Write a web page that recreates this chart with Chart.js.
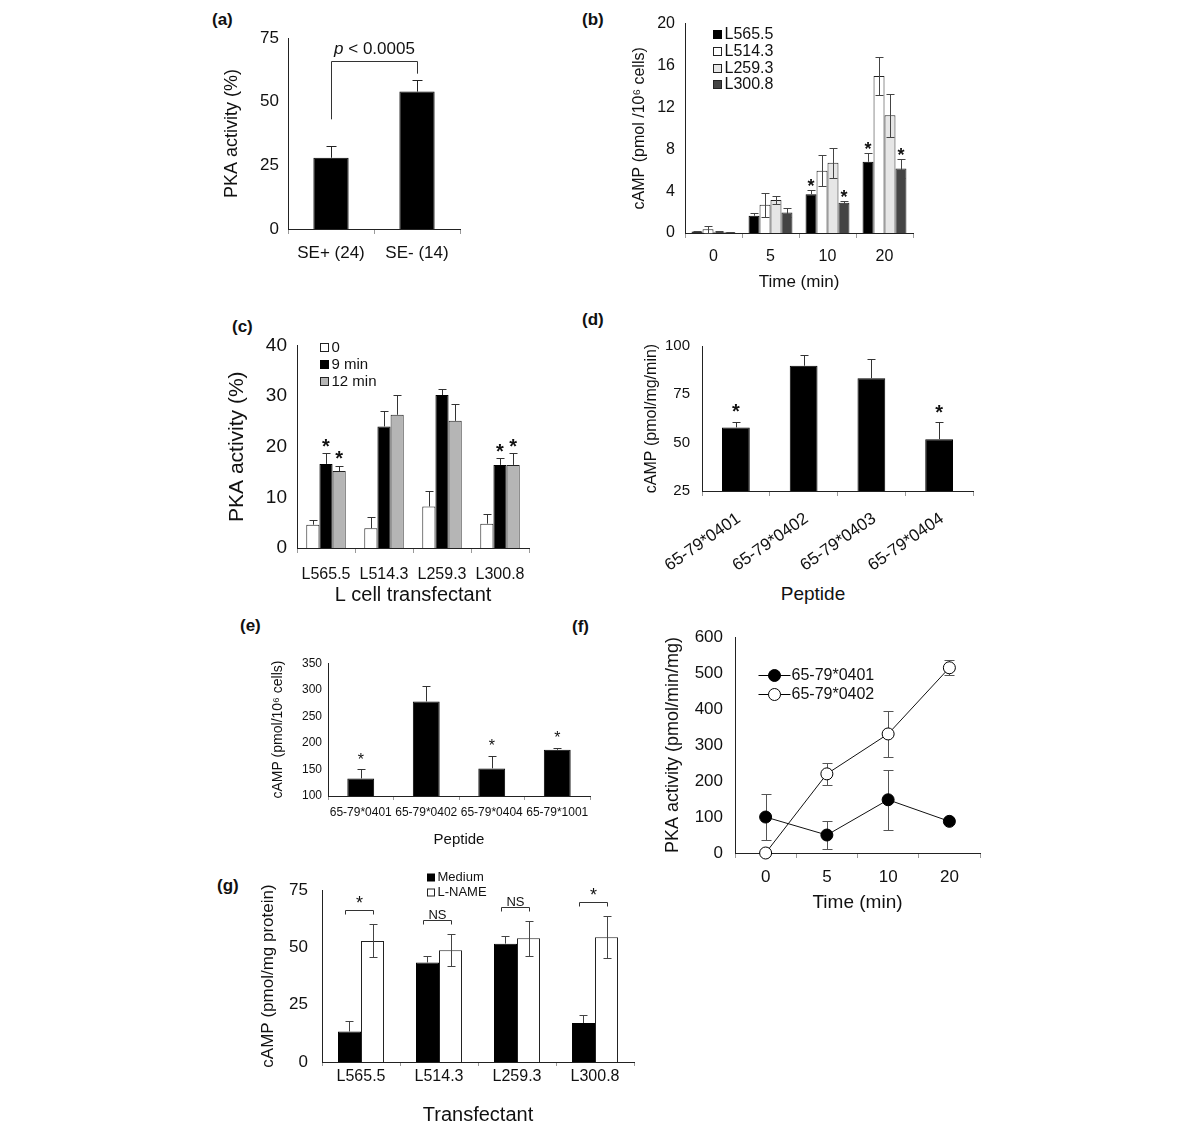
<!DOCTYPE html>
<html>
<head>
<meta charset="utf-8">
<title>PKA activity and cAMP in L cell transfectants</title>
<script src="https://cdn.jsdelivr.net/npm/chart.js@4.4.1/dist/chart.umd.min.js"></script>
<style>
  body { margin: 0; background: #fff; }
  #fig { position: relative; width: 1200px; height: 1141px; overflow: hidden;
         font-family: "Liberation Sans", Arial, Helvetica, sans-serif; color: #111; }
  #fig canvas { position: absolute; }
  .tag { position: absolute; font-weight: bold; font-size: 17px; line-height: 17px; }
  .axt { position: absolute; font-size: 19px; line-height: 19px; transform: translateX(-50%); white-space: nowrap; }
</style>
</head>
<body>
<div id="fig">
  <div class="tag" style="left:212px;top:11px">(a)</div>
  <div class="tag" style="left:582px;top:11px">(b)</div>
  <div class="tag" style="left:232px;top:318px">(c)</div>
  <div class="tag" style="left:582px;top:311px">(d)</div>
  <div class="tag" style="left:240px;top:617px">(e)</div>
  <div class="tag" style="left:572px;top:618px">(f)</div>
  <div class="tag" style="left:217px;top:877px">(g)</div>
  <div class="axt" style="left:813px;top:584px">Peptide</div>
  <canvas id="chartA"></canvas>
  <canvas id="chartB"></canvas>
  <canvas id="chartC"></canvas>
  <canvas id="chartD"></canvas>
  <canvas id="chartE"></canvas>
  <canvas id="chartF"></canvas>
  <canvas id="chartG"></canvas>
</div>
<script>
// ---- datos de cada panel ----

// (a) PKA activity, SE+ / SE-
const aLabels = ['SE+ (24)', 'SE- (14)'];
const aMeans = [28, 54];
const aErrors = [4.5, 4.5];
const aTicks = [0, 25, 50, 75];
const aPText = ['p', ' < 0.0005'];

// (b) cAMP over time
const bTimes = ['0', '5', '10', '20'];
const bSeries = ['L565.5', 'L514.3', 'L259.3', 'L300.8'];
const bL5655 = [0.15, 1.65, 3.7, 6.8];
const bL5143 = [0.35, 2.7, 5.95, 15.0];
const bL2593 = [0.12, 3.15, 6.7, 11.25];
const bL3008 = [0.08, 1.95, 2.9, 6.15];
const bErr5655 = [0.05, 0.25, 0.45, 0.85];
const bErr5143 = [0.35, 1.15, 1.5, 1.8];
const bErr2593 = [0.03, 0.35, 1.4, 2.05];
const bErr3008 = [0.03, 0.4, 0.15, 0.9];
const bStars5655 = ['', '', '*', '*'];
const bStars3008 = ['', '', '*', '*'];
const bTicks = [0, 4, 8, 12, 16, 20];

// (c) PKA activity per transfectant
const cLines = ['L565.5', 'L514.3', 'L259.3', 'L300.8'];
const cSeries = ['0', '9 min', '12 min'];
const c0 = [4.6, 3.9, 8.2, 4.8];
const c9 = [16.6, 24.0, 30.2, 16.4];
const c12 = [15.2, 26.3, 25.1, 16.4];
const cErr0 = [1.0, 2.3, 3.0, 1.9];
const cErr9 = [2.1, 3.1, 1.2, 1.3];
const cErr12 = [1.0, 3.9, 3.3, 2.3];
const cStars9 = ['*', '', '', '*'];
const cStars12 = ['*', '', '', '*'];
const cTicks = [0, 10, 20, 30, 40];

// (d) cAMP per peptide
const dPeptides = ['65-79*0401', '65-79*0402', '65-79*0403', '65-79*0404'];
const dMeans = [57.9, 89.8, 83.3, 51.8];
const dErrors = [2.9, 5.7, 10.2, 8.8];
const dStars = ['*', '', '', '*'];
const dTicks = [25, 50, 75, 100];

// (e) cAMP per peptide
const ePeptides = ['65-79*0401', '65-79*0402', '65-79*0404', '65-79*1001'];
const eMeans = [133, 278, 152, 187];
const eErrors = [17, 30, 23, 4];
const eStars = ['*', '', '*', '*'];
const eTicks = [100, 150, 200, 250, 300, 350];

// (f) PKA activity over time
const fTimes = ['0', '5', '10', '20'];
const fSeries = ['65-79*0401', '65-79*0402'];
const f0401 = [100, 50, 148, 88];
const f0401Err = [63, 38, 84, 0];
const f0402 = [0, 220, 331, 515];
const f0402Err = [0, 31, 64, 21];
const fTicks = [0, 100, 200, 300, 400, 500, 600];

// (g) cAMP, medium vs L-NAME
const gLines = ['L565.5', 'L514.3', 'L259.3', 'L300.8'];
const gSeries = ['Medium', 'L-NAME'];
const gMedium = [13.3, 43.4, 51.6, 17.0];
const gMediumErr = [4.7, 2.7, 3.2, 3.6];
const gLname = [52.8, 48.7, 54.0, 54.4];
const gLnameErr = [7.2, 7.0, 7.6, 9.1];
const gSig = ['*', 'NS', 'NS', '*'];
const gTicks = [0, 25, 50, 75];

// ---- estilo comun ----
const FONT = '"Liberation Sans", Arial, Helvetica, sans-serif';
const INK = '#111';
const AXIS = '#222';
Chart.defaults.font.family = FONT;
Chart.defaults.color = INK;
Chart.defaults.animation = false;
Chart.defaults.plugins.legend.display = false;
Chart.defaults.plugins.tooltip.enabled = false;

// barras de error (media +/- error)
function drawErrors(chart, opts) {
  const ys = chart.scales.y, ctx = chart.ctx;
  const cap = opts.cap || 4;
  ctx.save();
  ctx.strokeStyle = opts.color || '#333';
  ctx.lineWidth = 1;
  chart.data.datasets.forEach((ds, di) => {
    if (!ds.errors) return;
    chart.getDatasetMeta(di).data.forEach((el, i) => {
      const e = ds.errors[i];
      if (!e) return;
      const x = Math.round(el.x) + 0.5;
      const yTop = Math.round(ys.getPixelForValue(ds.data[i] + e)) + 0.5;
      const yBot = ds.errorBoth ? Math.round(ys.getPixelForValue(ds.data[i] - e)) + 0.5
                                : ys.getPixelForValue(ds.data[i]);
      ctx.beginPath();
      ctx.moveTo(x, yTop); ctx.lineTo(x, yBot);
      ctx.moveTo(x - cap, yTop); ctx.lineTo(x + cap, yTop);
      if (ds.errorBoth) { ctx.moveTo(x - cap, yBot); ctx.lineTo(x + cap, yBot); }
      ctx.stroke();
    });
  });
  ctx.restore();
}
const errorBars = {
  id: 'errorBars',
  beforeDatasetsDraw(chart, args, opts) { if (opts.under) drawErrors(chart, opts); },
  afterDatasetsDraw(chart, args, opts) { if (!opts.under) drawErrors(chart, opts); }
};

// asteriscos sobre las barras
const starMarks = {
  id: 'starMarks',
  afterDatasetsDraw(chart, args, opts) {
    if (!opts.size) return;
    const ys = chart.scales.y, ctx = chart.ctx;
    ctx.save();
    ctx.font = `${opts.weight || 'bold'} ${opts.size}px ${FONT}`;
    ctx.textAlign = 'center';
    ctx.textBaseline = 'alphabetic';
    ctx.fillStyle = INK;
    chart.data.datasets.forEach((ds, di) => {
      if (!ds.stars) return;
      chart.getDatasetMeta(di).data.forEach((el, i) => {
        if (!ds.stars[i]) return;
        const top = ys.getPixelForValue(ds.data[i] + (ds.errors ? ds.errors[i] : 0));
        ctx.fillText(ds.stars[i], el.x, top - opts.gap + 0.57 * opts.size);
      });
    });
    ctx.restore();
  }
};

// leyenda dibujada dentro del area del grafico
const boxLegend = {
  id: 'boxLegend',
  afterDraw(chart, args, opts) {
    if (opts.dx === undefined) return;
    const ca = chart.chartArea, ctx = chart.ctx;
    ctx.save();
    ctx.font = `${opts.size}px ${FONT}`;
    ctx.textBaseline = 'middle';
    chart.data.datasets.forEach((ds, k) => {
      const x = Math.round(ca.left + opts.dx) + 0.5;
      const y = Math.round(ca.top + opts.dy + k * opts.rowH) + 0.5;
      let tx;
      if (chart.config.type === 'line') {
        ctx.strokeStyle = '#000'; ctx.lineWidth = 1;
        ctx.beginPath(); ctx.moveTo(x, y); ctx.lineTo(x + opts.lineW, y); ctx.stroke();
        ctx.beginPath(); ctx.arc(x + opts.lineW / 2, y, ds.pointRadius, 0, Math.PI * 2);
        ctx.fillStyle = ds.pointBackgroundColor; ctx.fill(); ctx.stroke();
        tx = x + opts.lineW + 1;
      } else {
        const b = opts.box;
        ctx.fillStyle = ds.backgroundColor;
        ctx.fillRect(x, y - b / 2, b, b);
        ctx.strokeStyle = ds.borderColor; ctx.lineWidth = 1;
        ctx.strokeRect(x, y - b / 2, b, b);
        tx = x + b + opts.textGap;
      }
      ctx.fillStyle = INK;
      ctx.fillText(ds.label, tx, y);
    });
    ctx.restore();
  }
};

// corchete con el valor p (panel a)
const pBracket = {
  id: 'pBracket',
  afterDatasetsDraw(chart, args, opts) {
    if (!opts.parts) return;
    const ys = chart.scales.y, ctx = chart.ctx;
    const ds = chart.data.datasets[0], meta = chart.getDatasetMeta(0);
    const tops = ds.data.map((v, i) => ys.getPixelForValue(v + ds.errors[i]));
    const yb = Math.round(Math.min(...tops) - opts.rise) + 0.5;
    const x0 = Math.round(meta.data[0].x) + 0.5, x1 = Math.round(meta.data[1].x) + 0.5;
    ctx.save();
    ctx.strokeStyle = '#333'; ctx.lineWidth = 1;
    ctx.beginPath();
    ctx.moveTo(x0, tops[0] - opts.legGap[0]); ctx.lineTo(x0, yb);
    ctx.lineTo(x1, yb); ctx.lineTo(x1, tops[1] - opts.legGap[1]);
    ctx.stroke();
    ctx.fillStyle = INK;
    ctx.textBaseline = 'alphabetic';
    const fonts = [`italic ${opts.size}px ${FONT}`, `${opts.size}px ${FONT}`];
    let total = 0;
    opts.parts.forEach((t, k) => { ctx.font = fonts[k]; total += ctx.measureText(t).width; });
    let x = (x0 + x1) / 2 - total / 2;
    opts.parts.forEach((t, k) => {
      ctx.font = fonts[k];
      ctx.fillText(t, x, yb - opts.textGap);
      x += ctx.measureText(t).width;
    });
    ctx.restore();
  }
};

// corchetes entre pares de barras (panel g)
const pairBrackets = {
  id: 'pairBrackets',
  afterDatasetsDraw(chart, args, opts) {
    if (!opts.marks) return;
    const ys = chart.scales.y, ctx = chart.ctx;
    const sets = chart.data.datasets;
    const m0 = chart.getDatasetMeta(0), m1 = chart.getDatasetMeta(1);
    ctx.save();
    ctx.strokeStyle = '#333'; ctx.lineWidth = 1;
    ctx.fillStyle = INK; ctx.textAlign = 'center'; ctx.textBaseline = 'alphabetic';
    opts.marks.forEach((txt, i) => {
      const top = Math.min(...sets.map(ds => ys.getPixelForValue(ds.data[i] + ds.errors[i])));
      const y = Math.round(top - opts.gap) + 0.5;
      const x0 = Math.round(m0.data[i].x - 4) + 0.5, x1 = Math.round(m1.data[i].x) + 0.5;
      ctx.beginPath();
      ctx.moveTo(x0, y + opts.leg); ctx.lineTo(x0, y); ctx.lineTo(x1, y); ctx.lineTo(x1, y + opts.leg);
      ctx.stroke();
      ctx.font = `${txt === '*' ? opts.starSize : opts.size}px ${FONT}`;
      ctx.fillText(txt, (x0 + x1) / 2, y - 2);
    });
    ctx.restore();
  }
};

Chart.register(errorBars, starMarks, boxLegend, pBracket, pairBrackets);

// ---- ejes ----
function yAxis(ticks, size, pad, title, titleSize, titlePad) {
  return {
    min: ticks[0], max: ticks[ticks.length - 1],
    afterBuildTicks: s => { s.ticks = ticks.map(v => ({ value: v })); },
    grid: { display: false, drawTicks: false },
    border: { color: AXIS },
    ticks: { font: { size: size }, padding: pad, color: INK },
    title: { display: true, text: title, font: { size: titleSize }, color: INK,
             padding: { top: titlePad || 0, bottom: 0 } }
  };
}
function xAxis(size, tickLen, pad, title, titleSize, extra) {
  return Object.assign({
    offset: true,
    grid: { offset: true, drawOnChartArea: false, drawTicks: true, tickLength: tickLen, color: '#9a9a9a' },
    border: { color: AXIS },
    ticks: Object.assign({ font: { size: size }, padding: pad, color: INK, autoSkip: false,
                           maxRotation: 0, minRotation: 0 }, (extra && extra.ticks) || {}),
    title: { display: !!title, text: title || '', font: { size: titleSize || size }, color: INK, padding: 0 }
  });
}

// coloca el canvas para que el area del grafico caiga en el rectangulo g
function panel(id, g, config) {
  const cv = document.getElementById(id);
  const w = (g.R - g.L) + g.yW + g.padR;
  const h = (g.B - g.T) + g.padT + g.xH;
  cv.width = w; cv.height = h;
  cv.style.left = (g.L - g.yW) + 'px';
  cv.style.top = (g.T - g.padT) + 'px';
  cv.style.width = w + 'px';
  cv.style.height = h + 'px';
  config.options.responsive = false;
  config.options.maintainAspectRatio = false;
  config.options.layout = { padding: { top: g.padT, right: g.padR, left: 0, bottom: 0 } };
  config.options.scales.x.afterFit = s => { s.height = g.xH; };
  config.options.scales.y.afterFit = s => { s.width = g.yW; };
  return new Chart(cv, config);
}

// (a)
panel('chartA', { L: 288, T: 33, R: 460, B: 229, yW: 67, xH: 40, padT: 14, padR: 10 }, {
  type: 'bar',
  data: { labels: aLabels, datasets: [{
    data: aMeans, errors: aErrors, backgroundColor: '#000', borderColor: '#000', borderWidth: 1,
    barPercentage: 0.41, categoryPercentage: 1
  }] },
  options: {
    scales: { x: xAxis(17, 5, 9), y: yAxis(aTicks, 17, 9, 'PKA activity (%)', 18) },
    plugins: { errorBars: { cap: 5, color: '#222' },
               pBracket: { parts: aPText, size: 17, rise: 19, legGap: [27, 6.5], textGap: 8 } }
  }
});

// (b)
const bBar = (label, data, errors, bg, both, stars) => ({
  label, data, errors, errorBoth: both, stars, backgroundColor: bg,
  borderColor: bg === '#000' ? '#000' : '#222', borderWidth: 1,
  barPercentage: 1, categoryPercentage: 0.77
});
panel('chartB', { L: 685, T: 16, R: 913, B: 233, yW: 55, xH: 60, padT: 12, padR: 10 }, {
  type: 'bar',
  data: { labels: bTimes, datasets: [
    bBar(bSeries[0], bL5655, bErr5655, '#000', false, bStars5655),
    bBar(bSeries[1], bL5143, bErr5143, '#fff', true),
    bBar(bSeries[2], bL2593, bErr2593, '#e6e6e6', true),
    bBar(bSeries[3], bL3008, bErr3008, '#444', true, bStars3008)
  ] },
  options: {
    scales: { x: xAxis(16, 5, 9.4, 'Time (min)', 17),
              y: yAxis(bTicks, 16, 10, 'cAMP (pmol /10\u2076 cells)', 16) },
    plugins: { errorBars: { cap: 4, color: '#444' },
               starMarks: { size: 18, gap: 8 },
               boxLegend: { dx: 28, dy: 10.7, rowH: 16.7, size: 16, box: 8, textGap: 3 } }
  }
});

// (c)
const cBar = (label, data, errors, bg, stars) => ({
  label, data, errors, stars, backgroundColor: bg,
  borderColor: bg === '#000' ? '#000' : '#222', borderWidth: 1,
  barPercentage: 1, categoryPercentage: 0.68
});
panel('chartC', { L: 297, T: 338, R: 529, B: 548, yW: 72, xH: 59, padT: 14, padR: 10 }, {
  type: 'bar',
  data: { labels: cLines, datasets: [
    cBar(cSeries[0], c0, cErr0, '#fff'),
    cBar(cSeries[1], c9, cErr9, '#000', cStars9),
    cBar(cSeries[2], c12, cErr12, '#b5b5b5', cStars12)
  ] },
  options: {
    scales: { x: xAxis(16, 5, 12.4, 'L cell transfectant', 20),
              y: yAxis(cTicks, 19, 10, 'PKA activity (%)', 21) },
    plugins: { errorBars: { cap: 4, color: '#333' },
               starMarks: { size: 20, gap: 12 },
               boxLegend: { dx: 23, dy: 1.3, rowH: 17.3, size: 15, box: 8, textGap: 3 } }
  }
});

// (d)
panel('chartD', { L: 702, T: 337, R: 973, B: 491, yW: 62, xH: 120, padT: 12, padR: 10 }, {
  type: 'bar',
  data: { labels: dPeptides, datasets: [{
    data: dMeans, errors: dErrors, stars: dStars, backgroundColor: '#000', borderColor: '#000',
    borderWidth: 1, barPercentage: 0.41, categoryPercentage: 1
  }] },
  options: {
    scales: { x: xAxis(17, 5, 12.6, null, 17, { ticks: { minRotation: 35, maxRotation: 35, labelOffset: 3 } }),
              y: yAxis(dTicks, 15, 12, 'cAMP (pmol/mg/min)', 16, 2) },
    plugins: { errorBars: { cap: 4, color: '#333' },
               starMarks: { size: 20, gap: 15 } }
  }
});

// (e)
panel('chartE', { L: 328, T: 662, R: 590, B: 796, yW: 58, xH: 53, padT: 12, padR: 10 }, {
  type: 'bar',
  data: { labels: ePeptides, datasets: [{
    data: eMeans, errors: eErrors, stars: eStars, backgroundColor: '#000', borderColor: '#000',
    borderWidth: 1, barPercentage: 0.41, categoryPercentage: 1
  }] },
  options: {
    scales: { x: xAxis(12, 4, 5.8, 'Peptide', 15),
              y: yAxis(eTicks, 12, 6, 'cAMP (pmol/10\u2076 cells)', 14) },
    plugins: { errorBars: { cap: 4, color: '#333' },
               starMarks: { size: 16, gap: 14, weight: 'normal' } }
  }
});

// (f)
const fLine = (label, data, errors, fill) => ({
  label, data, errors, errorBoth: true, borderColor: '#111', borderWidth: 1, tension: 0,
  pointRadius: 6, pointBackgroundColor: fill, pointBorderColor: '#000', pointBorderWidth: 1,
  clip: false
});
panel('chartF', { L: 735, T: 627, R: 980, B: 853, yW: 73, xH: 61, padT: 12, padR: 10 }, {
  type: 'line',
  data: { labels: fTimes, datasets: [
    fLine(fSeries[0], f0401, f0401Err, '#000'),
    fLine(fSeries[1], f0402, f0402Err, '#fff')
  ] },
  options: {
    scales: { x: xAxis(17, 5, 8.8, 'Time (min)', 19),
              y: yAxis(fTicks, 17, 12, 'PKA activity (pmol/min/mg)', 18) },
    plugins: { errorBars: { cap: 5, color: '#555', under: true },
               boxLegend: { dx: 23, dy: 38, rowH: 19, size: 16, lineW: 32 } }
  }
});

// (g)
const gBar = (label, data, errors, bg, both) => ({
  label, data, errors, errorBoth: both, backgroundColor: bg,
  borderColor: bg === '#000' ? '#000' : '#222', borderWidth: 1,
  barPercentage: 1, categoryPercentage: 0.59
});
panel('chartG', { L: 322, T: 890, R: 634, B: 1062, yW: 64, xH: 65, padT: 28, padR: 10 }, {
  type: 'bar',
  data: { labels: gLines, datasets: [
    gBar(gSeries[0], gMedium, gMediumErr, '#000', false),
    gBar(gSeries[1], gLname, gLnameErr, '#fff', true)
  ] },
  options: {
    scales: { x: xAxis(16, 4, 1.4, 'Transfectant', 20),
              y: yAxis(gTicks, 17, 14, 'cAMP (pmol/mg protein)', 17) },
    plugins: { errorBars: { cap: 4, color: '#444' },
               pairBrackets: { marks: gSig, gap: 14, leg: 4, size: 13, starSize: 18 },
               boxLegend: { dx: 104.7, dy: -12.7, rowH: 15, size: 13, box: 7, textGap: 3 } }
  }
});
</script>
</body>
</html>
